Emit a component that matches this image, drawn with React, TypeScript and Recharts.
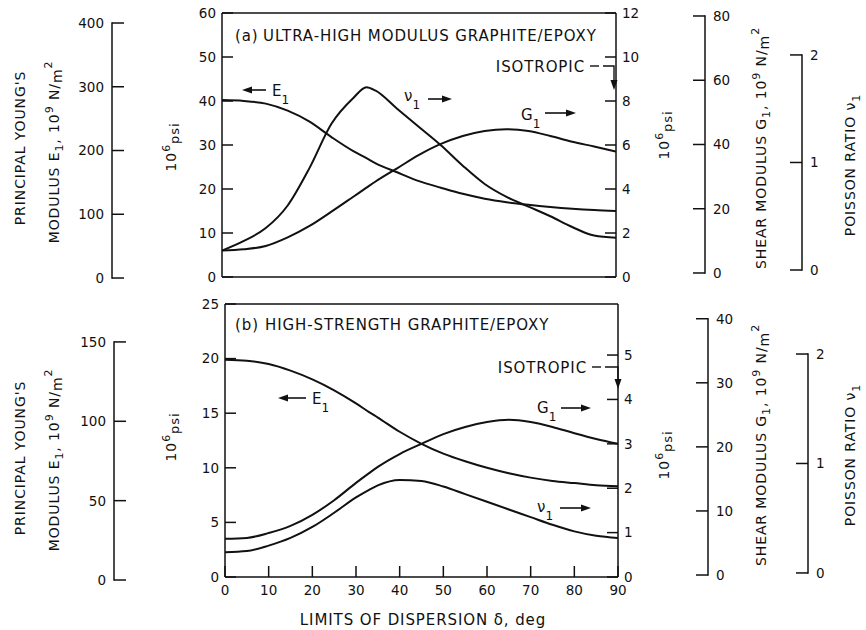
import React from "react";
import { ComposedChart, Customized, Line, XAxis, YAxis } from "recharts";

const FONT = "'DejaVu Sans', sans-serif";
const INK = "#111";

// limits of dispersion, deg
const degrees = [0, 5, 10, 15, 20, 25, 30, 33, 35, 40, 45, 50, 55, 60, 65, 70, 75, 80, 85, 90];

// (a) ultra-high modulus graphite/epoxy
const uhmE1 = [40.2, 40.0, 39.4, 37.8, 35.3, 31.8, 28.6, 27.0, 25.9, 23.8, 21.8, 20.3, 18.9, 17.8, 17.0, 16.4, 15.9, 15.5, 15.2, 15.0]; // 10^6 psi
const uhmG1 = [1.2, 1.26, 1.41, 1.8, 2.32, 2.97, 3.65, 4.06, 4.33, 4.94, 5.55, 6.05, 6.41, 6.64, 6.72, 6.64, 6.41, 6.15, 5.93, 5.7]; // 10^6 psi
const uhmNu = [0.18, 0.27, 0.39, 0.6, 0.95, 1.36, 1.6, 1.7, 1.67, 1.5, 1.33, 1.16, 0.97, 0.8, 0.68, 0.59, 0.5, 0.4, 0.32, 0.3];

// (b) high-strength graphite/epoxy
const hsE1 = [19.9, 19.8, 19.5, 18.9, 18.1, 17.1, 15.9, 15.1, 14.6, 13.3, 12.2, 11.3, 10.6, 10.0, 9.5, 9.1, 8.8, 8.6, 8.4, 8.3];
const hsG1 = [0.86, 0.88, 0.99, 1.15, 1.4, 1.73, 2.12, 2.34, 2.48, 2.77, 3.0, 3.22, 3.38, 3.49, 3.54, 3.49, 3.38, 3.24, 3.11, 3.0];
const hsNu = [0.19, 0.2, 0.25, 0.32, 0.42, 0.55, 0.69, 0.76, 0.8, 0.85, 0.84, 0.79, 0.72, 0.65, 0.58, 0.51, 0.44, 0.38, 0.34, 0.32];

const degTicks = [0, 10, 20, 30, 40, 50, 60, 70, 80, 90];
const uhmPsiTicks = [0, 10, 20, 30, 40, 50, 60];
const uhmPsiRightTicks = [0, 2, 4, 6, 8, 10, 12];
const uhmGpaTicks = [0, 100, 200, 300, 400];
const uhmShearTicks = [0, 20, 40, 60, 80];
const hsPsiTicks = [0, 5, 10, 15, 20, 25];
const hsPsiRightTicks = [0, 1, 2, 3, 4, 5];
const hsGpaTicks = [0, 50, 100, 150];
const hsShearTicks = [0, 10, 20, 30, 40];
const poissonTicks = [0, 1, 2];

type Row = { deg: number; e1: number; g1: number; nu: number };
const toRows = (e1: number[], g1: number[], nu: number[]): Row[] =>
  degrees.map((deg, i) => ({ deg, e1: e1[i], g1: g1[i], nu: nu[i] }));

const uhmData = toRows(uhmE1, uhmG1, uhmNu);
const hsData = toRows(hsE1, hsG1, hsNu);

const AX = { stroke: INK, strokeWidth: 1.5 };
const TICK = { fill: INK, fontSize: 13.5, fontFamily: FONT };
const LS = 0.9; // letter spacing for the lettering

// outer scale bars: ticks + bracket drawn only between 0 and the top tick
function barTick(side: "left" | "right", topValue: number, pxPerUnit: number) {
  return (p: any) => {
    const { x, y, payload } = p;
    const v = payload.value;
    const dir = side === "left" ? 1 : -1;
    return (
      <g>
        <line x1={x} x2={x + dir * 12} y1={y} y2={y} stroke={INK} strokeWidth={1.5} />
        {v === topValue && (
          <line x1={x} x2={x} y1={y - 0.75} y2={y + topValue * pxPerUnit + 0.75} stroke={INK} strokeWidth={1.5} />
        )}
        <text
          x={side === "left" ? x - 8 : x + 8}
          y={y}
          dy="0.36em"
          textAnchor={side === "left" ? "end" : "start"}
          fontSize={13.5}
          fontFamily={FONT}
          fill={INK}
        >
          {v}
        </text>
      </g>
    );
  };
}

function RotText({ x, y, children, size = 14 }: { x: number; y: number; children: React.ReactNode; size?: number }) {
  return (
    <text
      x={x}
      y={y}
      transform={`rotate(-90 ${x} ${y})`}
      textAnchor="middle"
      fontSize={size}
      letterSpacing={LS}
      fontFamily={FONT}
      fill={INK}
    >
      {children}
    </text>
  );
}

function Psi({ x, y }: { x: number; y: number }) {
  return (
    <RotText x={x} y={y}>
      10<tspan dy={-6} fontSize={11}>6</tspan>
      <tspan dy={9} fontSize={13}>psi</tspan>
    </RotText>
  );
}

function Gpa() {
  return (
    <>
      {"  10"}
      <tspan dy={-6} fontSize={11}>9</tspan>
      <tspan dy={6}>{"  N/"}</tspan>
      <tspan dy={3}>m</tspan>
      <tspan dy={-10} fontSize={11}>2</tspan>
    </>
  );
}

function Arrow({ from, to, y }: { from: number; to: number; y: number }) {
  const dir = Math.sign(to - from);
  const head = 10;
  return (
    <g>
      <line x1={from} x2={to - dir * head} y1={y} y2={y} stroke={INK} strokeWidth={1.6} />
      <polygon points={`${to},${y} ${to - dir * head},${y - 3.5} ${to - dir * head},${y + 3.5}`} fill={INK} />
    </g>
  );
}

function Label({ x, y, children, anchor = "start" }: { x: number; y: number; children: React.ReactNode; anchor?: string }) {
  return (
    <text x={x} y={y} fontSize={15} letterSpacing={LS} textAnchor={anchor as any} fontFamily={FONT} fill={INK}>
      {children}
    </text>
  );
}

function Isotropic({ end, y, right, tip }: { end: number; y: number; right: number; tip: number }) {
  const ly = y - 6;
  return (
    <g>
      <Label x={end} y={y} anchor="end">ISOTROPIC</Label>
      <line x1={end + 5} x2={end + 14} y1={ly} y2={ly} stroke={INK} strokeWidth={1.4} />
      <polyline points={`${end + 18},${ly} ${right},${ly} ${right},${tip - 9}`} fill="none" stroke={INK} strokeWidth={1.4} />
      <polygon points={`${right},${tip} ${right - 3.5},${tip - 10} ${right + 3.5},${tip - 10}`} fill={INK} />
    </g>
  );
}

function Sym({ x, y, sym }: { x: number; y: number; sym: string }) {
  return (
    <text x={x} y={y} fontSize={15} fontFamily={FONT} fill={INK}>
      {sym}
      <tspan dy={8} fontSize={12}>1</tspan>
    </text>
  );
}

function AxisTitles({ ys }: { ys: number[] }) {
  const [yPrin, yMod, yPsiL, yPsiR, yShear, yPoisson] = ys;
  return (
    <g>
      <RotText x={25} y={yPrin}>PRINCIPAL YOUNG'S</RotText>
      <RotText x={59} y={yMod}>
        MODULUS E<tspan dy={4} fontSize={11}>1</tspan>
        <tspan dy={-4}>,</tspan>
        <Gpa />
      </RotText>
      <Psi x={176} y={yPsiL} />
      <Psi x={669} y={yPsiR} />
      <RotText x={766} y={yShear}>
        SHEAR MODULUS G<tspan dy={4} fontSize={11}>1</tspan>
        <tspan dy={-4}>,</tspan>
        <Gpa />
      </RotText>
      <RotText x={855} y={yPoisson}>
        POISSON RATIO ν<tspan dy={5} fontSize={11}>1</tspan>
      </RotText>
    </g>
  );
}

function TopNotes() {
  return (
    <g>
      <Label x={235} y={41}>(a)</Label>
      <Label x={263} y={41}>ULTRA-HIGH MODULUS GRAPHITE/EPOXY</Label>
      <Isotropic end={585} y={72} right={614} tip={90} />
      <Arrow from={266} to={242} y={90} />
      <Sym x={272} y={96} sym="E" />
      <Sym x={404} y={101} sym="ν" />
      <Arrow from={428} to={452} y={99} />
      <Sym x={521} y={120} sym="G" />
      <Arrow from={545} to={576} y={113} />
      <AxisTitles ys={[148, 152, 147, 135, 148, 165]} />
    </g>
  );
}

// drawn in page coordinates, shifted into the lower chart
function BottomNotes() {
  return (
    <g transform="translate(0,-290)">
      <Label x={235} y={330}>(b)</Label>
      <Label x={265} y={330}>HIGH-STRENGTH GRAPHITE/EPOXY</Label>
      <Isotropic end={587} y={373} right={618} tip={389} />
      <Arrow from={306} to={278} y={398} />
      <Sym x={312} y={404} sym="E" />
      <Sym x={537} y={413} sym="G" />
      <Arrow from={561} to={591} y={408} />
      <Sym x={537} y={512} sym="ν" />
      <Arrow from={560} to={591} y={508} />
      <AxisTitles ys={[458, 460, 437, 455, 445, 455]} />
      <text x={423} y={625} textAnchor="middle" fontSize={15} letterSpacing={LS} fontFamily={FONT} fill={INK}>
        LIMITS OF DISPERSION δ, deg
      </text>
    </g>
  );
}

type AxisCfg = { width: number; domain: [number, number]; ticks: number[] };

type PanelProps = {
  data: Row[];
  height: number;
  margin: { top: number; right: number; bottom: number; left: number };
  xAxisHeight: number;
  showXLabels: boolean;
  psiL: AxisCfg;
  gpa: AxisCfg;
  psiR: AxisCfg;
  shear: AxisCfg;
  poisson: AxisCfg;
  notes: React.ReactElement;
};

function Panel(props: PanelProps) {
  const { data, height, margin, xAxisHeight, showXLabels, psiL, gpa, psiR, shear, poisson, notes } = props;
  const plotH = height - margin.top - 1 - margin.bottom - xAxisHeight;
  const ppu = (c: AxisCfg) => plotH / (c.domain[1] - c.domain[0]);
  const top = (c: AxisCfg) => c.ticks[c.ticks.length - 1];

  return (
    <ComposedChart width={866} height={height} data={data} margin={margin}>
      <XAxis
        xAxisId="b"
        type="number"
        dataKey="deg"
        domain={[0, 90]}
        ticks={degTicks}
        interval={0}
        height={xAxisHeight}
        axisLine={AX}
        tickLine={AX}
        tickSize={-11}
        tickMargin={showXLabels ? 19 : 0}
        tick={showXLabels ? TICK : false}
      />
      <XAxis
        xAxisId="t"
        orientation="top"
        type="number"
        dataKey="deg"
        domain={[0, 90]}
        allowDataOverflow
        ticks={degTicks}
        interval={0}
        height={1}
        axisLine={AX}
        tickLine={AX}
        tickSize={-11}
        tick={false}
      />
      {/* ids sort in placement order: L1 next to the plot, L2 outside it */}
      <YAxis
        yAxisId="L1"
        orientation="left"
        width={psiL.width}
        domain={psiL.domain}
        ticks={psiL.ticks}
        interval={0}
        axisLine={AX}
        tickLine={AX}
        tickSize={-11}
        tickMargin={17}
        tick={TICK}
      />
      <YAxis
        yAxisId="L2"
        orientation="left"
        width={gpa.width}
        domain={gpa.domain}
        allowDataOverflow
        ticks={gpa.ticks}
        interval={0}
        axisLine={false}
        tickLine={false}
        tickSize={0}
        tickMargin={0}
        tick={barTick("left", top(gpa), ppu(gpa))}
      />
      <YAxis
        yAxisId="R1"
        orientation="right"
        width={psiR.width}
        domain={psiR.domain}
        ticks={psiR.ticks}
        interval={0}
        axisLine={AX}
        tickLine={AX}
        tickSize={-11}
        tickMargin={17}
        tick={TICK}
      />
      <YAxis
        yAxisId="R2"
        orientation="right"
        width={shear.width}
        domain={shear.domain}
        allowDataOverflow
        ticks={shear.ticks}
        interval={0}
        axisLine={false}
        tickLine={false}
        tickSize={0}
        tickMargin={0}
        tick={barTick("right", top(shear), ppu(shear))}
      />
      <YAxis
        yAxisId="R3"
        orientation="right"
        width={poisson.width}
        domain={poisson.domain}
        allowDataOverflow
        ticks={poisson.ticks}
        interval={0}
        axisLine={false}
        tickLine={false}
        tickSize={0}
        tickMargin={0}
        tick={barTick("right", top(poisson), ppu(poisson))}
      />
      <Line xAxisId="b" yAxisId="L1" type="monotone" dataKey="e1" stroke={INK} strokeWidth={2} dot={false} isAnimationActive={false} />
      <Line xAxisId="b" yAxisId="R1" type="monotone" dataKey="g1" stroke={INK} strokeWidth={2} dot={false} isAnimationActive={false} />
      <Line xAxisId="b" yAxisId="R3" type="monotone" dataKey="nu" stroke={INK} strokeWidth={2} dot={false} isAnimationActive={false} />
      <Customized component={notes} />
    </ComposedChart>
  );
}

export default function App() {
  return (
    <div style={{ position: "absolute", left: 0, top: 0, width: 866, height: 630, background: "#fff" }}>
      <div style={{ position: "absolute", left: 0, top: 0 }}>
        <Panel
          data={uhmData}
          height={300}
          margin={{ top: 12, right: 4, bottom: 0, left: 8 }}
          xAxisHeight={23}
          showXLabels={false}
          psiL={{ width: 110, domain: [0, 60], ticks: uhmPsiTicks }}
          gpa={{ width: 104, domain: [1.6, 415.7], ticks: uhmGpaTicks }}
          psiR={{ width: 89, domain: [0, 12], ticks: uhmPsiRightTicks }}
          shear={{ width: 97, domain: [-1.25, 80.93], ticks: uhmShearTicks }}
          poisson={{ width: 60, domain: [-0.065, 2.39], ticks: poissonTicks }}
          notes={<TopNotes />}
        />
      </div>
      <div style={{ position: "absolute", left: 0, top: 290 }}>
        <Panel
          data={hsData}
          height={340}
          margin={{ top: 13, right: 2, bottom: 0, left: 10 }}
          xAxisHeight={53}
          showXLabels={true}
          psiL={{ width: 111, domain: [0, 25], ticks: hsPsiTicks }}
          gpa={{ width: 104, domain: [1.9, 173.9], ticks: hsGpaTicks }}
          psiR={{ width: 90, domain: [0, 6.15], ticks: hsPsiRightTicks }}
          shear={{ width: 100, domain: [-0.31, 42.3], ticks: hsShearTicks }}
          poisson={{ width: 56, domain: [-0.037, 2.457], ticks: poissonTicks }}
          notes={<BottomNotes />}
        />
      </div>
    </div>
  );
}
